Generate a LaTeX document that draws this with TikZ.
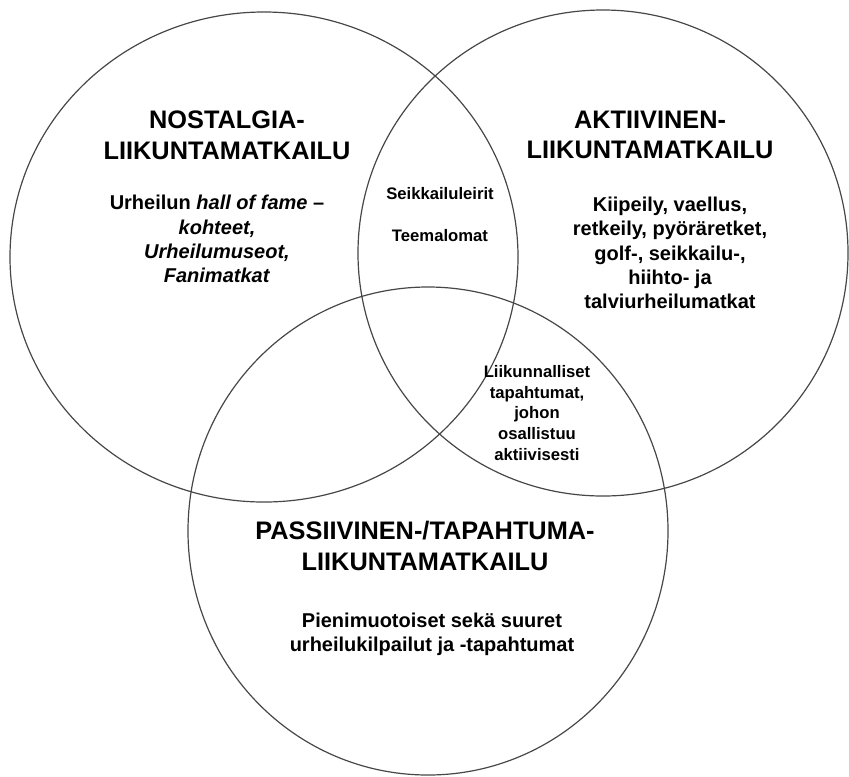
\documentclass[tikz,border=0pt]{standalone}
\usepackage{fontspec}
\setmainfont{Liberation Sans}
\usetikzlibrary{positioning}

\begin{document}
\begin{tikzpicture}[x=0.75pt, y=-0.75pt,
  ring/.style={draw=black!72, line width=0.9pt},
  heading/.style={font=\bfseries\fontsize{19}{23}\selectfont, align=center, inner sep=0pt},
  itemtext/.style={font=\bfseries\fontsize{15}{18.2}\selectfont, align=center, inner sep=0pt},
  smalltext/.style={font=\bfseries\fontsize{12.5}{15.5}\selectfont, align=center, inner sep=0pt}]
\useasboundingbox (0,0) rectangle (849,776);
% the three circles
\foreach \cx/\cy/\rx/\ry in {264/257/190.5/183.75, 603/253/183.75/182.25, 428/531/180/183}
  \draw[ring] (\cx,\cy) ellipse [x radius=\rx pt, y radius=\ry pt];
% nostalgia
\node[heading] (nosthead) at (227,135) {NOSTALGIA-\\LIIKUNTAMATKAILU};
\node[itemtext] (nosttext) at (217,239) {Urheilun \textit{hall of fame} –\\\textit{kohteet,}\\\textit{Urheilumuseot,}\\\textit{Fanimatkat}};
% aktiivinen
\node[heading] (akthead) at (650,135) {AKTIIVINEN-\\LIIKUNTAMATKAILU};
\node[itemtext] (akttext) at (670,253) {Kiipeily, vaellus,\\retkeily, pyöräretket,\\golf-, seikkailu-,\\hiihto- ja\\talviurheilumatkat};
% passiivinen
\node[heading] (passhead) at (425,546) {PASSIIVINEN-/TAPAHTUMA-\\LIIKUNTAMATKAILU};
\node[itemtext] (passtext) at (432,634) {Pienimuotoiset sekä suuret\\urheilukilpailut ja -tapahtumat};
% overlaps
\node[smalltext] (leirit) at (440,194) {Seikkailuleirit};
\node[smalltext] (lomat) at (440,236) {Teemalomat};
\node[smalltext] (tapaht) at (537,413) {Liikunnalliset\\tapahtumat,\\johon\\osallistuu\\aktiivisesti};
\end{tikzpicture}
\end{document}
